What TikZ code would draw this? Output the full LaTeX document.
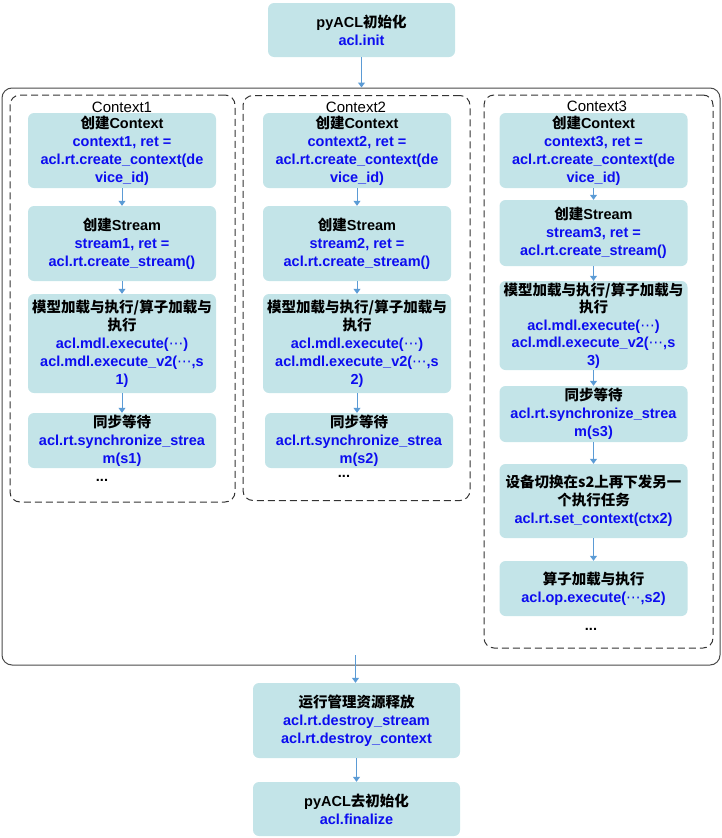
\documentclass[tikz,border=0pt]{standalone}
\usepackage{fontspec}
\setmainfont{Liberation Sans}
\newfontfamily\cjk{Noto Sans CJK SC}
\newfontfamily\dotsfont{DejaVu Sans}
\usetikzlibrary{arrows.meta}
\definecolor{boxfill}{HTML}{C3E4E8}
\definecolor{codeblue}{HTML}{0C0CF0}
\definecolor{flowblue}{HTML}{5B9BD5}
\definecolor{framegray}{HTML}{4A4A4A}
\def\zh#1{{\cjk #1}}
\def\codeline#1{{\color{codeblue}#1}}
\def\cdots{{\dotsfont\mdseries ⋯}}
\tikzset{
	actbox/.style={fill=boxfill, rounded corners=6pt, align=center, inner sep=0pt, minimum width=188pt, font=\fontsize{14.5pt}{18pt}\selectfont\bfseries},
	ctxframe/.style={draw=black!80, dash pattern=on 7pt off 4pt, line width=1pt, rounded corners=10pt},
	ctxlabel/.style={font=\fontsize{15pt}{18pt}\selectfont},
	moredots/.style={font=\fontsize{14.5pt}{18pt}\selectfont\bfseries},
	flowarrow/.style={draw=flowblue, line width=1pt, -{Triangle[length=5pt,width=7pt]}}
}

\begin{document}
\begin{tikzpicture}[x=1pt, y=-1pt]
		%%%%% START %%%%%
		\useasboundingbox (0, 0) rectangle (722, 838);
		
		\node[actbox, minimum width=187pt, minimum height=54pt] (init) at (361.5, 30) {pyACL\zh{初始化}\\ \codeline{acl.init}};
		
		\node[draw=framegray, line width=1pt, rounded corners=10pt, minimum width=718pt, minimum height=577pt] (frame) at (361, 376.5) {};
		\draw[flowarrow] (init) -- (init |- frame.north);
		
		\node[ctxframe, minimum width=225pt, minimum height=407pt] (ctx1) at (122.5, 298.5) {};
		\node[ctxframe, minimum width=227pt, minimum height=405pt] (ctx2) at (356.5, 298) {};
		\node[ctxframe, minimum width=229pt, minimum height=553pt] (ctx3) at (598.5, 371.5) {};
		\node[ctxlabel] (lab1) at (122, 107) {Context1};
		\node[ctxlabel] (lab2) at (356, 107) {Context2};
		\node[ctxlabel] (lab3) at (597, 106) {Context3};
		
		% Context1
		\node[actbox, minimum height=75pt] (c1a) at (122, 150.5) {\zh{创建}Context\\ \codeline{context1, ret =}\\ \codeline{acl.rt.create\_context(de}\\ \codeline{vice\_id)}};
		\node[actbox, minimum height=75pt] (c1b) at (122, 243.5) {\zh{创建}Stream\\ \codeline{stream1, ret =}\\ \codeline{acl.rt.create\_stream()}};
		\node[actbox, minimum height=99pt] (c1c) at (122, 343.5) {\zh{模型加载与执行/算子加载与}\\ \zh{执行}\\ \codeline{acl.mdl.execute(\cdots)}\\ \codeline{acl.mdl.execute\_v2(\cdots,s}\\ \codeline{1)}};
		\node[actbox, minimum height=55pt] (c1d) at (122, 440.5) {\zh{同步等待}\\ \codeline{acl.rt.synchronize\_strea}\\ \codeline{m(s1)}};
		\node[moredots] (c1e) at (102, 480) {...};
		\draw[flowarrow] (c1a) -- (c1b);
		\draw[flowarrow] (c1b) -- (c1c);
		\draw[flowarrow] (c1c) -- (c1d);
		
		% Context2
		\node[actbox, minimum height=75pt] (c2a) at (357, 150.5) {\zh{创建}Context\\ \codeline{context2, ret =}\\ \codeline{acl.rt.create\_context(de}\\ \codeline{vice\_id)}};
		\node[actbox, minimum height=75pt] (c2b) at (357, 243.5) {\zh{创建}Stream\\ \codeline{stream2, ret =}\\ \codeline{acl.rt.create\_stream()}};
		\node[actbox, minimum height=99pt] (c2c) at (357, 343.5) {\zh{模型加载与执行/算子加载与}\\ \zh{执行}\\ \codeline{acl.mdl.execute(\cdots)}\\ \codeline{acl.mdl.execute\_v2(\cdots,s}\\ \codeline{2)}};
		\node[actbox, minimum height=55pt] (c2d) at (359, 440.5) {\zh{同步等待}\\ \codeline{acl.rt.synchronize\_strea}\\ \codeline{m(s2)}};
		\node[moredots] (c2e) at (344, 476) {...};
		\draw[flowarrow] (c2a) -- (c2b);
		\draw[flowarrow] (c2b) -- (c2c);
		\draw[flowarrow] (c2c.south) -- (c2c.south |- c2d.north);
		
		% Context3
		\node[actbox, minimum height=75pt] (c3a) at (593.5, 150.5) {\zh{创建}Context\\ \codeline{context3, ret =}\\ \codeline{acl.rt.create\_context(de}\\ \codeline{vice\_id)}};
		\node[actbox, minimum height=66pt] (c3b) at (593.5, 233) {\zh{创建}Stream\\ \codeline{stream3, ret =}\\ \codeline{acl.rt.create\_stream()}};
		\node[actbox, minimum height=89pt, font=\fontsize{14.5pt}{17.5pt}\selectfont\bfseries] (c3c) at (593.5, 325.5) {\zh{模型加载与执行/算子加载与}\\ \zh{执行}\\ \codeline{acl.mdl.execute(\cdots)}\\ \codeline{acl.mdl.execute\_v2(\cdots,s}\\ \codeline{3)}};
		\node[actbox, minimum height=56pt] (c3d) at (593.5, 414) {\zh{同步等待}\\ \codeline{acl.rt.synchronize\_strea}\\ \codeline{m(s3)}};
		\node[actbox, minimum height=74pt] (c3e) at (593.5, 501) {\zh{设备切换在s2上再下发另一}\\ \zh{个执行任务}\\ \codeline{acl.rt.set\_context(ctx2)}};
		\node[actbox, minimum height=55pt] (c3f) at (593.5, 588.5) {\zh{算子加载与执行}\\ \codeline{acl.op.execute(\cdots,s2)}};
		\node[moredots] (c3g) at (591, 629) {...};
		\draw[flowarrow] (c3a) -- (c3b);
		\draw[flowarrow] (c3b) -- (c3c);
		\draw[flowarrow] (c3c) -- (c3d);
		\draw[flowarrow] (c3d) -- (c3e);
		\draw[flowarrow] (c3e) -- (c3f);
		
		% release and finalize
		\node[actbox, minimum width=207pt, minimum height=75pt] (release) at (356.5, 720.5) {\zh{运行管理资源释放}\\ \codeline{acl.rt.destroy\_stream}\\ \codeline{acl.rt.destroy\_context}};
		\node[actbox, minimum width=207pt, minimum height=54pt] (final) at (356.5, 809) {pyACL\zh{去初始化}\\ \codeline{acl.finalize}};
		\coordinate (frameexit) at (355.5, 655);
		\draw[flowarrow] (frameexit) -- (frameexit |- release.north);
		\draw[flowarrow] (release) -- (final);
		
		%%%%% END %%%%%
\end{tikzpicture}
\end{document}
